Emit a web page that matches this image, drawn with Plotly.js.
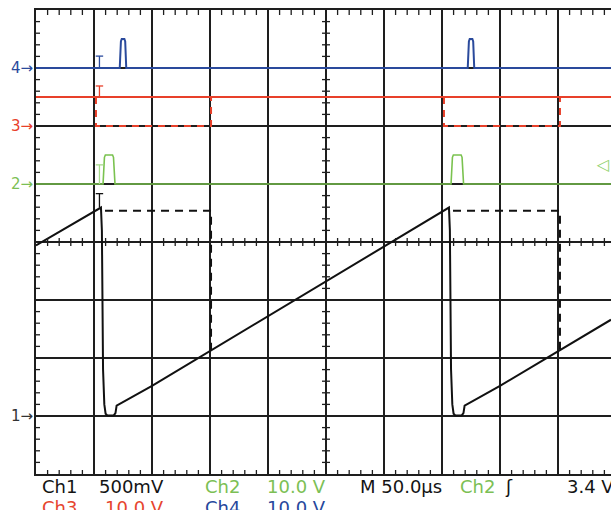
<!DOCTYPE html>
<html>
<head>
<meta charset="utf-8">
<script src="https://cdn.plot.ly/plotly-3.0.1.min.js"></script>
<style>html,body{margin:0;padding:0;background:#fff;overflow:hidden}</style>
</head>
<body>
<div id="chart" style="width:611px;height:510px"></div>
<script>
// ---- time base & channel settings ----
const timePerDiv = 50;          // µs / div  (M 50.0µs)
const visibleTime = 495.7;      // µs visible (screen is cut on the right)
const ch1Scale = 0.5, ch1Ground = -3;   // 500 mV/div
const ch2Scale = 10,  ch2Ground = 1;    // 10.0 V/div
const ch3Scale = 10,  ch3Ground = 2;    // 10.0 V/div
const ch4Scale = 10,  ch4Ground = 3;    // 10.0 V/div
const triggerLevel = 3.4;               // V on Ch2

// ---- Ch1 sawtooth (V) ----
const ch1Time = [0, 56, 56.8, 57.8, 58.9, 60.0, 61.5, 67, 68.5, 69.5, 100, 150, 200, 250, 300,
                 356, 356.8, 357.8, 358.9, 360.0, 361.5, 367, 368.5, 369.5, 400, 450, 495.7];
const ch1Volt = [1.47, 1.797, 1.60, 0.40, 0.10, 0.02, 0.005, 0.005, 0.025, 0.09, 0.26, 0.56, 0.86, 1.16, 1.46,
                 1.797, 1.60, 0.40, 0.10, 0.02, 0.005, 0.005, 0.025, 0.09, 0.26, 0.56, 0.83];
// Ch1 persistence (dashed) path
const ch1AltTime = [59.5, 150.9, 150.9, null, 359.5, 451.7, 451.7];
const ch1AltVolt = [1.77, 1.77, 0.56, null, 1.77, 1.77, 0.56];

// ---- Ch2 pulses (V) ----
const ch2Time = [0, 57.8, 59.0, 59.8, 66.0, 66.8, 68.1, 357.8, 359.0, 359.8, 366.5, 367.3, 368.6, 495.7];
const ch2Volt = [0, 0, 4.6, 5, 5, 4.6, 0, 0, 4.6, 5, 5, 4.6, 0, 0];

// ---- Ch3 (V) ----
const ch3Time = [0, 495.7];
const ch3Volt = [5, 5];
const ch3AltTime = [51.7, 51.7, 150.9, 150.9, null, 351.7, 351.7, 451.7, 451.7];
const ch3AltVolt = [5, 0, 0, 5, null, 5, 0, 0, 5];

// ---- Ch4 pulses (V) ----
const ch4Time = [0, 72.2, 73.2, 73.9, 76.2, 76.9, 77.8, 372.2, 373.2, 373.9, 376.2, 376.9, 377.8, 495.7];
const ch4Volt = [0, 0, 4.6, 5, 5, 4.6, 0, 0, 4.6, 5, 5, 4.6, 0, 0];

// ---- readout texts ----
const readRow1 = [["Ch1", "k"], ["500mV", "k"], ["Ch2", "g"], ["10.0 V", "g"], ["M 50.0µs", "k"], ["Ch2", "g"], ["ʃ", "k"], ["3.4 V", "k"]];
const readRow2 = [["Ch3", "r"], ["10.0 V", "r"], ["Ch4", "b"], ["10.0 V", "b"]];

const COL = {k: "#141414", g: "#7cbf55", r: "#e6452e", b: "#26479c"};
const TRACE = {k: "#111111", g: "#7ac24f", r: "#e8402a", b: "#2a4a9c"};

const toDiv = (volts, scale, ground) => volts.map(v => v === null ? null : ground + v / scale);

const traces = [
  {x: ch3Time, y: toDiv(ch3Volt, ch3Scale, ch3Ground), mode: "lines", line: {color: TRACE.r, width: 2}},
  {x: ch3AltTime, y: toDiv(ch3AltVolt, ch3Scale, ch3Ground), mode: "lines", line: {color: TRACE.r, width: 2, dash: "7px,6px"}},
  {x: ch4Time, y: toDiv(ch4Volt, ch4Scale, ch4Ground), mode: "lines", line: {color: TRACE.b, width: 2}},
  {x: ch2Time, y: toDiv(ch2Volt, ch2Scale, ch2Ground), mode: "lines", line: {color: TRACE.g, width: 1.6}},
  {x: ch1AltTime, y: toDiv(ch1AltVolt, ch1Scale, ch1Ground), mode: "lines", line: {color: TRACE.k, width: 2, dash: "8px,6px"}},
  {x: ch1Time, y: toDiv(ch1Volt, ch1Scale, ch1Ground), mode: "lines", line: {color: TRACE.k, width: 2}}
];

// ---- graticule decorations (center cross ticks, border ticks) ----
const shapes = [];
const gridCol = "#1e1e1e";
for (let i = -20; i <= 20; i++) {           // ticks along centre vertical line and left border
  if (i % 5 === 0) continue;
  const v = i * 0.2;
  shapes.push({type: "line", xref: "x", yref: "y", xsizemode: "pixel", xanchor: 5 * timePerDiv,
    x0: -4, x1: 4, y0: v, y1: v, line: {color: gridCol, width: 1.3}});
  shapes.push({type: "line", xref: "paper", yref: "y", xsizemode: "pixel", xanchor: 0,
    x0: 0, x1: 4, y0: v, y1: v, line: {color: gridCol, width: 1.3}});
}
for (let i = 1; i * timePerDiv / 5 < visibleTime; i++) {   // ticks along centre horizontal line and borders
  if (i % 5 === 0) continue;
  const t = i * timePerDiv / 5;
  shapes.push({type: "line", xref: "x", yref: "y", ysizemode: "pixel", yanchor: 0,
    x0: t, x1: t, y0: -4, y1: 4, line: {color: gridCol, width: 1.3}});
  shapes.push({type: "line", xref: "x", yref: "paper", ysizemode: "pixel", yanchor: 1,
    x0: t, x1: t, y0: 0, y1: -5, line: {color: gridCol, width: 1.3}});
  shapes.push({type: "line", xref: "x", yref: "paper", ysizemode: "pixel", yanchor: 0,
    x0: t, x1: t, y0: 0, y1: 4, line: {color: gridCol, width: 1.3}});
}
// pre-trigger "T" markers
const tMarkX = 54.7, tBar = 3.2;
const tMarks = [
  [ch4Ground + 0.205, ch4Ground, TRACE.b],
  [ch3Ground + 0.69, ch3Ground + 0.5, TRACE.r],
  [ch2Ground + 0.33, ch2Ground, "#a8d98c"],
  [ch1Ground + 1.797 / ch1Scale + 0.24, ch1Ground + 1.797 / ch1Scale, TRACE.k]
];
tMarks.forEach(([top, bot, c]) => {
  shapes.push({type: "line", xref: "x", yref: "y", x0: tMarkX, x1: tMarkX, y0: top, y1: bot, line: {color: c, width: 1.3}});
  shapes.push({type: "line", xref: "x", yref: "y", x0: tMarkX - tBar, x1: tMarkX + tBar, y0: top, y1: top, line: {color: c, width: 1.3}});
});

// ---- annotations ----
const ann = [];
const fontFam = "DejaVu Sans, Verdana, sans-serif";
[[ch4Ground, "4", TRACE.b], [ch3Ground, "3", TRACE.r], [ch2Ground, "2", "#7cbf55"], [ch1Ground, "1", "#333"]].forEach(([g, lab, c]) => {
  ann.push({xref: "paper", yref: "y", x: 0, y: g, xanchor: "right", yanchor: "middle", xshift: -1,
    text: lab + "→", showarrow: false, font: {family: fontFam, size: 15, color: c}});
});
ann.push({xref: "paper", yref: "y", x: 1, y: ch2Ground + triggerLevel / ch2Scale, xanchor: "right", yanchor: "middle", xshift: 1,
  text: "◁", showarrow: false, font: {family: fontFam, size: 16, color: "#8fd16a"}});

const row1X = [40, 97, 203, 265, 358, 458, 503, 565];
const row2X = [40, 103, 203, 265];
const pxToPaperX = px => (px - 36) / 575;
const pxToPaperY = py => (474 - py) / 464;
readRow1.forEach(([txt, c], i) => ann.push({xref: "paper", yref: "paper", x: pxToPaperX(row1X[i]), y: pxToPaperY(487),
  xanchor: "left", yanchor: "middle", text: txt, showarrow: false, font: {family: fontFam, size: 18, color: COL[c]}}));
readRow2.forEach(([txt, c], i) => ann.push({xref: "paper", yref: "paper", x: pxToPaperX(row2X[i]), y: pxToPaperY(507),
  xanchor: "left", yanchor: "middle", text: txt, showarrow: false, font: {family: fontFam, size: 18, color: COL[c]}}));

const layout = {
  width: 611, height: 510,
  margin: {l: 36, r: 0, t: 10, b: 36},
  paper_bgcolor: "#fff", plot_bgcolor: "#fff",
  showlegend: false,
  xaxis: {range: [0, visibleTime], tick0: 0, dtick: timePerDiv, showgrid: true, gridcolor: gridCol, gridwidth: 1.6,
    zeroline: false, showline: true, linecolor: gridCol, linewidth: 2, mirror: true, showticklabels: false, ticks: "", fixedrange: true},
  yaxis: {range: [-4, 4], tick0: 0, dtick: 1, showgrid: true, gridcolor: gridCol, gridwidth: 1.6,
    zeroline: true, zerolinecolor: gridCol, zerolinewidth: 1.6, showline: true, linecolor: gridCol, linewidth: 2, mirror: true,
    showticklabels: false, ticks: "", fixedrange: true},
  shapes: shapes,
  annotations: ann
};

Plotly.newPlot("chart", traces, layout, {displayModeBar: false, staticPlot: true});
</script>
</body>
</html>
